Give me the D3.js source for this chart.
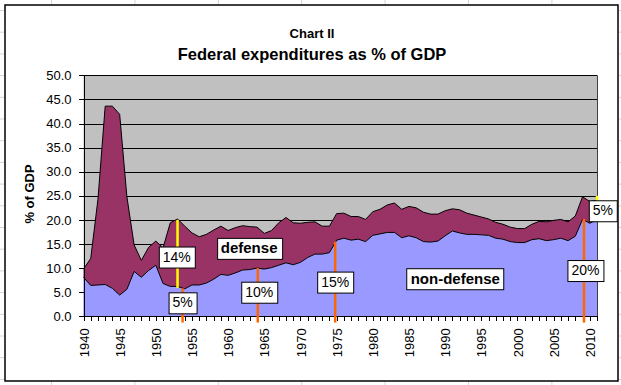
<!DOCTYPE html>
<html>
<head>
<meta charset="utf-8">
<script src="https://cdn.jsdelivr.net/npm/d3@7"></script>
<style>
  body { margin: 0; background: #fff; }
  svg text { font-family: "Liberation Sans", Arial, sans-serif; fill: #000; }
  .axis path, .axis line { stroke: #000; shape-rendering: crispEdges; }
</style>
</head>
<body>
<div id="chart"></div>
<script>

// fiscal years (categories)
var years = [1940, 1941, 1942, 1943, 1944, 1945, 1946, 1947, 1948, 1949,
	1950, 1951, 1952, 1953, 1954, 1955, 1956, 1957, 1958, 1959,
	1960, 1961, 1962, 1963, 1964, 1965, 1966, 1967, 1968, 1969,
	1970, 1971, 1972, 1973, 1974, 1975, 1976, 1977, 1978, 1979,
	1980, 1981, 1982, 1983, 1984, 1985, 1986, 1987, 1988, 1989,
	1990, 1991, 1992, 1993, 1994, 1995, 1996, 1997, 1998, 1999,
	2000, 2001, 2002, 2003, 2004, 2005, 2006, 2007, 2008, 2009,
	2010, 2011];

// non-defense outlays, % of GDP
var nonDefense = [8.1, 6.4, 6.5, 6.6, 5.8, 4.4, 5.6, 9.3, 8.1, 9.5,
	10.6, 6.8, 6.2, 6.2, 5.7, 6.5, 6.5, 6.9, 7.7, 8.7,
	8.5, 9.0, 9.6, 9.7, 10.0, 9.8, 10.1, 10.6, 11.1, 10.7,
	11.2, 12.2, 12.9, 12.9, 13.2, 15.8, 16.2, 15.8, 16.0, 15.5,
	16.8, 17.1, 17.4, 17.4, 16.3, 16.7, 16.3, 15.5, 15.4, 15.6,
	16.7, 17.7, 17.3, 17.0, 17.0, 16.9, 16.8, 16.2, 16.0, 15.5,
	15.3, 15.3, 15.9, 16.1, 15.7, 15.9, 16.2, 15.7, 16.6, 20.1,
	19.3, 20.1];

// defense outlays, % of GDP
var defense = [1.7, 5.6, 17.8, 37.0, 37.8, 37.5, 19.2, 5.5, 3.5, 4.8,
	5.0, 7.4, 13.2, 14.0, 13.0, 10.8, 10.0, 10.1, 10.2, 10.0,
	9.3, 9.4, 9.2, 8.9, 8.5, 7.4, 7.7, 8.8, 9.4, 8.7,
	8.1, 7.3, 6.7, 5.8, 5.5, 5.5, 5.2, 4.9, 4.7, 4.6,
	4.9, 5.1, 5.7, 6.1, 5.9, 6.1, 6.2, 6.1, 5.8, 5.6,
	5.2, 4.6, 4.8, 4.4, 4.0, 3.7, 3.4, 3.3, 3.1, 3.0,
	2.9, 2.9, 3.2, 3.6, 3.9, 4.0, 3.9, 3.9, 4.2, 4.7,
	4.5, 4.0];

var yTicks = [0, 5, 10, 15, 20, 25, 30, 35, 40, 45, 50];
var labelYears = [1940, 1945, 1950, 1955, 1960, 1965, 1970, 1975, 1980, 1985, 1990, 1995, 2000, 2005, 2010];

// hand drawn marker lines: [year, from, to]
var orangeMarks = [[1953.7, -1.3, 5.8], [1964.1, -1.3, 10.0], [1974.8, -1.3, 15.5], [2009.2, -1.3, 20.2]];
var yellowMarks = [[1953.0, 5.9, 20.0], [2011.0, 20.1, 25.0]];

// text boxes: [text, year, value, bold]
var callouts = [
	["14%", 1952.9, 12.4, false],
	["5%", 1953.7, 2.9, false],
	["defense", 1962.9, 14.2, true],
	["10%", 1964.3, 5.1, false],
	["15%", 1974.8, 7.2, false],
	["non-defense", 1991.4, 7.9, true],
	["20%", 2009.4, 9.6, false],
	["5%", 2011.8, 22.0, false]
];

var W = 621, H = 385;
var plot = {left: 83.5, right: 597, top: 75.3, bottom: 316.3};

var svg = d3.select("#chart").append("svg")
	.attr("width", W)
	.attr("height", H);

// spreadsheet cells behind the chart
var sheet = svg.append("g").attr("stroke", "#d6d6d6").attr("stroke-width", 1);
d3.range(51.5, W, 83.4).forEach(function(gx) {
	sheet.append("line").attr("x1", gx).attr("x2", gx).attr("y1", 0).attr("y2", H);
});
d3.range(10.5, H, 21.7).forEach(function(gy) {
	sheet.append("line").attr("x1", 0).attr("x2", W).attr("y1", gy).attr("y2", gy);
});

// chart frame
svg.append("rect")
	.attr("x", 5).attr("y", 5)
	.attr("width", 613).attr("height", 376)
	.attr("fill", "#fff")
	.attr("stroke", "#000")
	.attr("stroke-width", 1.5);

// titles
svg.append("text")
	.attr("x", 312).attr("y", 38)
	.attr("text-anchor", "middle")
	.style("font-size", "13px")
	.style("font-weight", "bold")
	.text("Chart II");

svg.append("text")
	.attr("x", 312).attr("y", 60)
	.attr("text-anchor", "middle")
	.style("font-size", "16.5px")
	.style("font-weight", "bold")
	.text("Federal expenditures as % of GDP");

// scales
var x = d3.scaleLinear().domain([1940, 2011]).range([plot.left, plot.right]);
var y = d3.scaleLinear().domain([0, 50]).range([plot.bottom, plot.top]);

// plot background
svg.append("rect")
	.attr("x", plot.left).attr("y", plot.top)
	.attr("width", plot.right - plot.left)
	.attr("height", plot.bottom - plot.top)
	.attr("fill", "#c0c0c0");

// gridlines
svg.append("g")
	.selectAll("line")
	.data(yTicks.slice(1))
	.enter().append("line")
	.attr("x1", plot.left).attr("x2", plot.right)
	.attr("y1", function(d) { return Math.round(y(d)) + 0.5; })
	.attr("y2", function(d) { return Math.round(y(d)) + 0.5; })
	.attr("stroke", "#000");

// stacked areas
var rows = years.map(function(yr, i) {
	return {year: yr, nondef: nonDefense[i], def: defense[i]};
});
var stack = d3.stack().keys(["nondef", "def"]);
var layers = stack(rows);
var colors = {nondef: "#9999ff", def: "#993366"};

var area = d3.area()
	.x(function(d) { return x(d.data.year); })
	.y0(function(d) { return y(d[0]); })
	.y1(function(d) { return y(d[1]); });

var edge = d3.line()
	.x(function(d) { return x(d.data.year); })
	.y(function(d) { return y(d[1]); });

svg.append("g").selectAll("path")
	.data(layers)
	.enter().append("path")
	.attr("d", area)
	.attr("fill", function(d) { return colors[d.key]; });

svg.append("g").selectAll("path")
	.data(layers)
	.enter().append("path")
	.attr("d", edge)
	.attr("fill", "none")
	.attr("stroke", "#000")
	.attr("stroke-width", 1);

// right edge of plot
svg.append("line")
	.attr("x1", plot.right + 0.5).attr("x2", plot.right + 0.5)
	.attr("y1", plot.top).attr("y2", plot.bottom)
	.attr("stroke", "#404040");

// y axis
var yAxis = d3.axisLeft(y)
	.tickValues(yTicks)
	.tickFormat(d3.format(".1f"))
	.tickSize(5)
	.tickPadding(7)
	.tickSizeOuter(0);

svg.append("g")
	.attr("class", "axis")
	.attr("transform", "translate(" + plot.left + ",0)")
	.call(yAxis)
	.selectAll("text")
	.style("font-size", "13px");

// x axis, a tick for every year
var xAxis = d3.axisBottom(x)
	.tickValues(years)
	.tickFormat(function(d) { return labelYears.indexOf(d) >= 0 ? d : ""; })
	.tickSize(5)
	.tickSizeOuter(0);

var xG = svg.append("g")
	.attr("class", "axis")
	.attr("transform", "translate(0," + plot.bottom + ")")
	.call(xAxis);

xG.selectAll("text")
	.attr("transform", "rotate(-90)")
	.attr("x", -12)
	.attr("y", 0)
	.attr("dy", "0.35em")
	.style("text-anchor", "end")
	.style("font-size", "13px");

// y axis title
svg.append("text")
	.attr("transform", "translate(34," + 194 + ") rotate(-90)")
	.attr("text-anchor", "middle")
	.style("font-size", "13px")
	.style("font-weight", "bold")
	.text("% of GDP");

// marker lines
var marks = svg.append("g");
marks.selectAll("line.orange")
	.data(orangeMarks)
	.enter().append("line")
	.attr("class", "orange")
	.attr("x1", function(d) { return x(d[0]); })
	.attr("x2", function(d) { return x(d[0]); })
	.attr("y1", function(d) { return y(d[1]); })
	.attr("y2", function(d) { return y(d[2]); })
	.attr("stroke", "#ff6600")
	.attr("stroke-width", 2.5);

marks.selectAll("line.yellow")
	.data(yellowMarks)
	.enter().append("line")
	.attr("class", "yellow")
	.attr("x1", function(d) { return x(d[0]); })
	.attr("x2", function(d) { return x(d[0]); })
	.attr("y1", function(d) { return y(d[1]); })
	.attr("y2", function(d) { return y(d[2]); })
	.attr("stroke", "#ffff00")
	.attr("stroke-width", 2.5);

// callout boxes
var boxes = svg.append("g").selectAll("g")
	.data(callouts)
	.enter().append("g")
	.attr("transform", function(d) { return "translate(" + x(d[1]) + "," + y(d[2]) + ")"; });

boxes.append("rect");
boxes.append("text")
	.attr("text-anchor", "middle")
	.attr("dy", "0.36em")
	.style("font-size", function(d) { return d[3] ? "15px" : "14px"; })
	.style("font-weight", function(d) { return d[3] ? "bold" : "normal"; })
	.text(function(d) { return d[0]; });

boxes.each(function() {
	var g = d3.select(this),
		bb = g.select("text").node().getBBox(),
		padX = 4, h = 21;
	g.select("rect")
		.attr("x", Math.round(-bb.width / 2 - padX) + 0.5)
		.attr("y", Math.round(-h / 2) + 0.5)
		.attr("width", Math.round(bb.width + padX * 2))
		.attr("height", h)
		.attr("fill", "#fff")
		.attr("stroke", "#000");
});

</script>
</body>
</html>
